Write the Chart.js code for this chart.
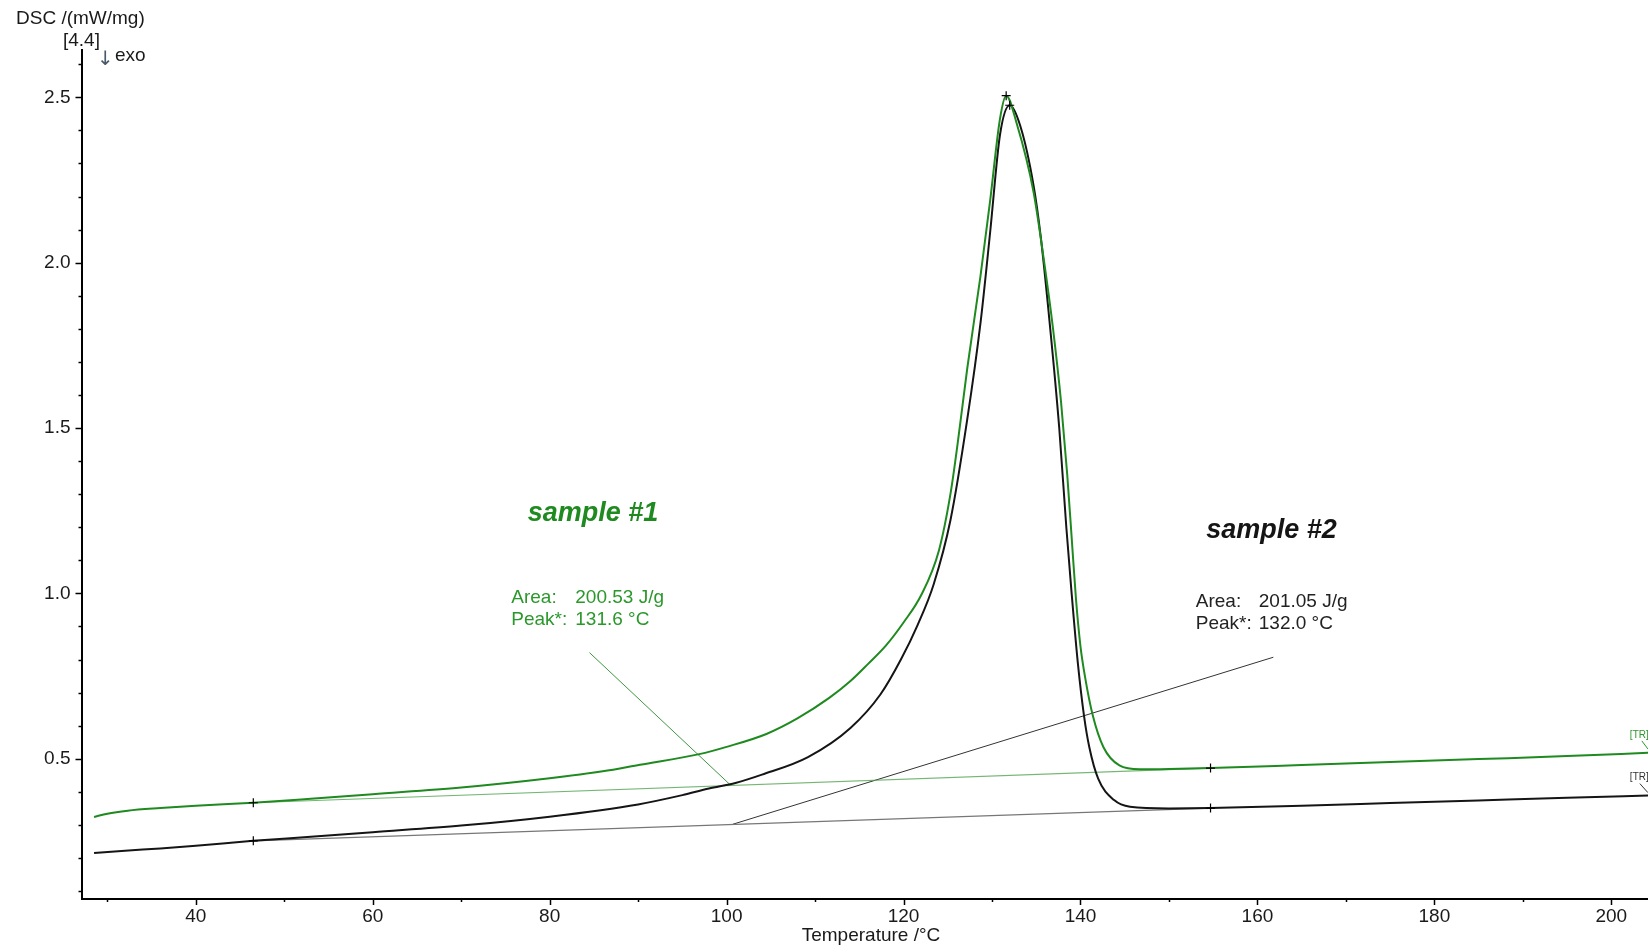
<!DOCTYPE html>
<html>
<head>
<meta charset="utf-8">
<title>DSC</title>
<script src="https://cdn.jsdelivr.net/npm/chart.js@4.4.0/dist/chart.umd.min.js"></script>
<style>
  html, body { margin: 0; padding: 0; background: #fff; }
  canvas { display: block; }
</style>
</head>
<body>
<canvas id="dscChart" width="1648" height="947"></canvas>
<script>
// sample #1 (green)
var sample1Temp = [28.5, 30.0, 32.3, 36.0, 40.0, 46.5, 53.0, 60.0, 70.0, 80.0, 86.0, 90.2, 96.9, 100.0, 104.5, 108.0, 111.6, 114.0, 116.0, 118.0, 120.0, 122.0, 124.0, 125.3, 126.1, 127.2, 128.7, 129.8, 130.9, 131.6, 132.8, 134.7, 135.8, 136.9, 137.8, 138.5, 139.0, 139.5, 140.0, 140.5, 141.4, 142.6, 144.4, 146.7, 150.0, 154.7, 165.0, 175.0, 185.0, 195.0, 204.2];
var sample1Dsc  = [0.324, 0.334, 0.343, 0.351, 0.358, 0.367, 0.379, 0.393, 0.413, 0.441, 0.462, 0.482, 0.514, 0.536, 0.575, 0.622, 0.684, 0.735, 0.787, 0.842, 0.912, 0.995, 1.130, 1.300, 1.450, 1.680, 1.960, 2.190, 2.435, 2.505, 2.420, 2.213, 2.020, 1.800, 1.580, 1.360, 1.170, 0.980, 0.840, 0.750, 0.630, 0.535, 0.480, 0.468, 0.469, 0.472, 0.481, 0.490, 0.499, 0.508, 0.518];

// sample #2 (black)
var sample2Temp = [28.5, 32.0, 36.0, 40.0, 46.5, 53.0, 60.0, 70.0, 80.0, 90.0, 95.0, 98.0, 101.0, 104.0, 109.2, 114.0, 117.4, 119.7, 121.6, 123.4, 125.3, 127.2, 128.7, 129.8, 130.9, 132.0, 133.2, 134.7, 135.5, 136.4, 137.6, 138.4, 139.0, 139.7, 140.4, 141.0, 142.0, 143.8, 145.6, 150.0, 154.7, 165.0, 175.0, 185.0, 195.0, 204.2];
var sample2Dsc  = [0.215, 0.222, 0.229, 0.237, 0.252, 0.264, 0.278, 0.298, 0.325, 0.362, 0.390, 0.410, 0.427, 0.452, 0.505, 0.593, 0.695, 0.800, 0.905, 1.027, 1.221, 1.526, 1.818, 2.095, 2.386, 2.476, 2.413, 2.233, 2.080, 1.850, 1.500, 1.200, 1.000, 0.790, 0.630, 0.535, 0.440, 0.375, 0.355, 0.350, 0.351, 0.358, 0.366, 0.374, 0.382, 0.389];

// integration baselines and leader lines
var baseline1Temp = [46.5, 154.7];
var baseline1Dsc  = [0.367, 0.472];
var baseline2Temp = [46.5, 154.7];
var baseline2Dsc  = [0.252, 0.351];
var leader1Temp = [84.5, 100.5];
var leader1Dsc  = [0.821, 0.419];
var leader2Temp = [161.8, 100.7];
var leader2Dsc  = [0.807, 0.302];

// "+" markers (baseline limits and peaks)
var markerTemp = [46.5, 154.7, 131.6, 46.5, 154.7, 132.0];
var markerDsc  = [0.367, 0.472, 2.505, 0.252, 0.351, 2.476];

// axes
var xTicks = [30, 40, 50, 60, 70, 80, 90, 100, 110, 120, 130, 140, 150, 160, 170, 180, 190, 200];
var xLabelTicks = [40, 60, 80, 100, 120, 140, 160, 180, 200];
var yTicks = [0.1, 0.2, 0.3, 0.4, 0.5, 0.6, 0.7, 0.8, 0.9, 1.0, 1.1, 1.2, 1.3, 1.4, 1.5, 1.6, 1.7, 1.8, 1.9, 2.0, 2.1, 2.2, 2.3, 2.4, 2.5, 2.6];
var yLabelTicks = [0.5, 1.0, 1.5, 2.0, 2.5];

var GREEN = '#1f8a1f';
var GREEN_TEXT = '#2a982a';
var BLACK = '#151515';
var FONT = '"Liberation Sans", Arial, sans-serif';

function pts(xs, ys) {
    return xs.map(function (x, i) { return { x: x, y: ys[i] }; });
}
function isLabel(list, v) {
    return list.some(function (t) { return Math.abs(t - v) < 1e-6; });
}

var decorPlugin = {
    id: 'decor',
    afterDraw: function (chart) {
        var ctx = chart.ctx;
        var xs = chart.scales.x, ys = chart.scales.y;
        var area = chart.chartArea;
        ctx.save();

        // tick marks
        ctx.strokeStyle = '#000';
        ctx.lineWidth = 1.5;
        xTicks.forEach(function (t) {
            var px = Math.round(xs.getPixelForValue(t)) + 0.5;
            var len = isLabel(xLabelTicks, t) ? 6 : 3;
            ctx.beginPath();
            ctx.moveTo(px, area.bottom);
            ctx.lineTo(px, area.bottom + len);
            ctx.stroke();
        });
        yTicks.forEach(function (t) {
            var py = Math.round(ys.getPixelForValue(t)) + 0.5;
            var len = isLabel(yLabelTicks, t) ? 6 : 3;
            ctx.beginPath();
            ctx.moveTo(area.left, py);
            ctx.lineTo(area.left - len, py);
            ctx.stroke();
        });

        // axis titles
        ctx.fillStyle = '#1a1a1a';
        ctx.font = '19px ' + FONT;
        ctx.textBaseline = 'alphabetic';
        ctx.textAlign = 'left';
        ctx.fillText('DSC /(mW/mg)', 16, 24);
        ctx.fillText('[4.4]', 63, 46);
        ctx.fillText('exo', 115, 61);
        ctx.fillStyle = '#4a5a6a';
        ctx.font = '20px "DejaVu Sans", sans-serif';
        ctx.fillText('\u2193', 97, 65);
        ctx.fillStyle = '#1a1a1a';
        ctx.font = '19px ' + FONT;
        ctx.textAlign = 'center';
        ctx.fillText('Temperature /\u00b0C', 871, 941);

        // sample names
        ctx.textAlign = 'left';
        ctx.font = 'italic bold 27px ' + FONT;
        ctx.fillStyle = GREEN;
        ctx.fillText('sample #1', xs.getPixelForValue(77.51), ys.getPixelForValue(1.219));
        ctx.fillStyle = BLACK;
        ctx.fillText('sample #2', xs.getPixelForValue(154.22), ys.getPixelForValue(1.168));

        // result boxes
        ctx.font = '19px ' + FONT;
        var x1 = xs.getPixelForValue(75.66);
        ctx.fillStyle = GREEN_TEXT;
        ctx.fillText('Area:', x1, ys.getPixelForValue(0.9706));
        ctx.fillText('200.53 J/g', x1 + 64, ys.getPixelForValue(0.9706));
        ctx.fillText('Peak*:', x1, ys.getPixelForValue(0.905));
        ctx.fillText('131.6 \u00b0C', x1 + 64, ys.getPixelForValue(0.905));
        var x2 = xs.getPixelForValue(153.03);
        ctx.fillStyle = '#222';
        ctx.fillText('Area:', x2, ys.getPixelForValue(0.960));
        ctx.fillText('201.05 J/g', x2 + 63, ys.getPixelForValue(0.960));
        ctx.fillText('Peak*:', x2, ys.getPixelForValue(0.893));
        ctx.fillText('132.0 \u00b0C', x2 + 63, ys.getPixelForValue(0.893));

        // [TR] tags at the right end
        ctx.font = '10px ' + FONT;
        var tx = xs.getPixelForValue(202.1);
        var ty1 = ys.getPixelForValue(0.563);
        var ty2 = ys.getPixelForValue(0.437);
        ctx.fillStyle = GREEN_TEXT;
        ctx.fillText('[TR]', tx, ty1);
        ctx.fillStyle = '#333';
        ctx.fillText('[TR]', tx, ty2);
        ctx.lineWidth = 1;
        ctx.strokeStyle = GREEN_TEXT;
        ctx.beginPath(); ctx.moveTo(tx + 12, ty1 + 3); ctx.lineTo(tx + 18, ty1 + 11); ctx.stroke();
        ctx.strokeStyle = '#333';
        ctx.beginPath(); ctx.moveTo(tx + 10, ty2 + 4); ctx.lineTo(tx + 18, ty2 + 13); ctx.stroke();

        ctx.restore();
    }
};

var ctx = document.getElementById('dscChart').getContext('2d');
var dscChart = new Chart(ctx, {
    type: 'line',
    data: {
        datasets: [{
            label: 'markers',
            data: pts(markerTemp, markerDsc),
            showLine: false,
            pointStyle: 'cross',
            pointRadius: 4.5,
            pointBorderWidth: 1.2,
            pointBorderColor: '#000',
            order: 0
        }, {
            label: 'sample #1',
            data: pts(sample1Temp, sample1Dsc),
            borderColor: GREEN,
            borderWidth: 2,
            pointRadius: 0,
            cubicInterpolationMode: 'monotone',
            order: 1
        }, {
            label: 'sample #2',
            data: pts(sample2Temp, sample2Dsc),
            borderColor: BLACK,
            borderWidth: 2,
            pointRadius: 0,
            cubicInterpolationMode: 'monotone',
            order: 1
        }, {
            label: 'baseline #1',
            data: pts(baseline1Temp, baseline1Dsc),
            borderColor: 'rgba(80,165,80,0.8)',
            borderWidth: 1.2,
            pointRadius: 0,
            order: 2
        }, {
            label: 'baseline #2',
            data: pts(baseline2Temp, baseline2Dsc),
            borderColor: '#777',
            borderWidth: 1.2,
            pointRadius: 0,
            order: 2
        }, {
            label: 'leader #1',
            data: pts(leader1Temp, leader1Dsc),
            borderColor: '#3f963f',
            borderWidth: 1,
            pointRadius: 0,
            order: 2
        }, {
            label: 'leader #2',
            data: pts(leader2Temp, leader2Dsc),
            borderColor: '#333',
            borderWidth: 1,
            pointRadius: 0,
            order: 2
        }]
    },
    options: {
        responsive: false,
        animation: false,
        layout: { autoPadding: false, padding: { top: 50, left: 0, right: 0, bottom: 0 } },
        plugins: {
            legend: { display: false },
            tooltip: { enabled: false }
        },
        scales: {
            x: {
                type: 'linear',
                bounds: 'data',
                min: 27.08,
                max: 204.15,
                afterBuildTicks: function (s) {
                    s.ticks = xTicks.map(function (v) { return { value: v }; });
                },
                afterFit: function (s) { s.height = 48; },
                grid: { display: false, drawTicks: false },
                border: { display: true, color: '#000', width: 2 },
                ticks: {
                    autoSkip: false,
                    maxRotation: 0,
                    padding: 6,
                    color: '#1a1a1a',
                    font: { family: FONT, size: 19 },
                    callback: function (v) { return isLabel(xLabelTicks, v) ? String(v) : ''; }
                }
            },
            y: {
                type: 'linear',
                bounds: 'data',
                min: 0.076,
                max: 2.643,
                afterBuildTicks: function (s) {
                    s.ticks = yTicks.map(function (v) { return { value: v }; });
                },
                afterFit: function (s) { s.width = 81.5; },
                grid: { display: false, drawTicks: false },
                border: { display: true, color: '#000', width: 2 },
                ticks: {
                    autoSkip: false,
                    padding: 11,
                    color: '#1a1a1a',
                    font: { family: FONT, size: 19 },
                    callback: function (v) { return isLabel(yLabelTicks, v) ? v.toFixed(1) : ''; }
                }
            }
        }
    },
    plugins: [decorPlugin]
});
</script>
</body>
</html>
